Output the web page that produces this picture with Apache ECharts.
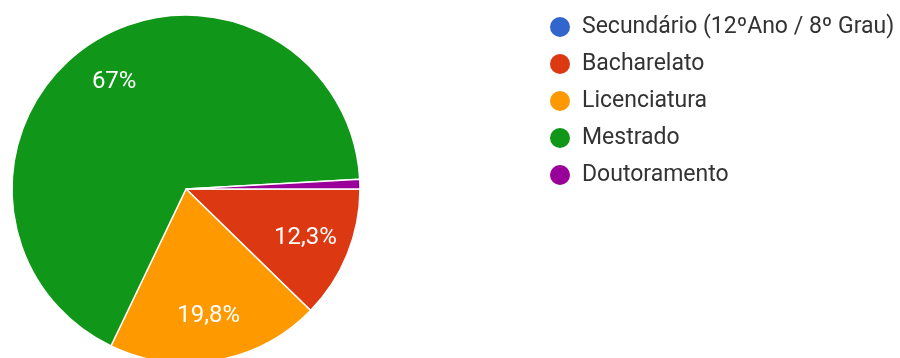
<!DOCTYPE html>
<html>
<head>
<meta charset="utf-8">
<script src="https://cdn.jsdelivr.net/npm/echarts@6/dist/echarts.min.js"></script>
<style>
  html, body { margin: 0; padding: 0; background: #fff; }
  #chart { width: 900px; height: 358px; }
</style>
</head>
<body>
<div id="chart"></div>
<script>
// Education level of respondents (percent)
const categories = ['Secundário (12ºAno / 8º Grau)', 'Bacharelato', 'Licenciatura', 'Mestrado', 'Doutoramento'];
const shares = [0, 12.3, 19.8, 67, 0.9];
const colors = ['#3366cc', '#dc3912', '#ff9900', '#109618', '#990099'];

const FONT = 'Roboto, "Liberation Sans", Arial, sans-serif';
const CENTER = [186, 189];
const R = 174;

const pieData = categories.map((name, i) => ({ name, value: shares[i] }));

function pctLabel(p) {
  if (p.value < 5) return '';
  return String(p.value).replace('.', ',') + '%';
}

const chart = echarts.init(document.getElementById('chart'), null, { renderer: 'canvas' });
chart.setOption({
  animation: false,
  color: colors,
  legend: {
    orient: 'vertical',
    left: 548,
    top: 15,
    padding: 0,
    icon: 'circle',
    itemWidth: 22,
    itemHeight: 22,
    itemGap: 13,
    selectedMode: false,
    data: categories,
    textStyle: {
      fontFamily: FONT,
      fontSize: 23,
      lineHeight: 24,
      color: '#333',
      padding: [0, 0, 0, 6]
    }
  },
  series: [
    {
      // the slices
      type: 'pie',
      center: CENTER,
      radius: [0, R],
      startAngle: 0,
      clockwise: true,
      silent: true,
      itemStyle: { borderColor: '#fff', borderWidth: 1.5 },
      label: { show: false },
      labelLine: { show: false },
      data: pieData
    },
    {
      // percentage labels, placed on a ring so they sit out toward the rim
      type: 'pie',
      center: CENTER,
      radius: [78, R],
      startAngle: 0,
      clockwise: true,
      silent: true,
      itemStyle: { color: 'transparent', borderWidth: 0 },
      emphasis: { disabled: true },
      label: {
        show: true,
        position: 'inside',
        rotate: 0,
        formatter: pctLabel,
        color: '#fff',
        fontFamily: FONT,
        fontSize: 24
      },
      labelLine: { show: false },
      data: pieData
    }
  ]
});
</script>
</body>
</html>
